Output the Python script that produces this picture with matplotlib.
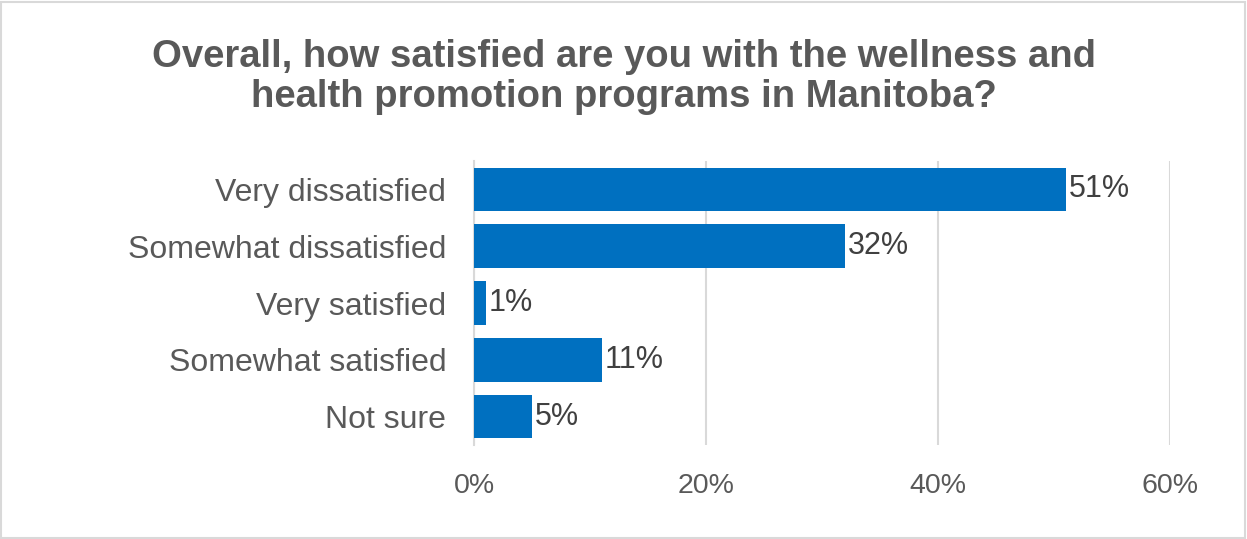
import matplotlib
matplotlib.use("Agg")
import matplotlib.pyplot as plt
from matplotlib.patches import Rectangle
from matplotlib.ticker import FuncFormatter

plt.rcParams["font.family"] = ["Liberation Sans", "DejaVu Sans"]

categories = ["Very dissatisfied", "Somewhat dissatisfied", "Very satisfied",
              "Somewhat satisfied", "Not sure"]
values = [51, 32, 1, 11, 5]
xticks = [0, 20, 40, 60]

BLUE = "#0070C0"
GREY_TXT = "#595959"
GRID = "#D9D9D9"

fig = plt.figure(figsize=(12.47, 5.39), dpi=100)
ax = fig.add_axes([474 / 1247, 1 - 445 / 539, 696 / 1247, 284 / 539])

ypos = list(range(len(categories)))
ax.barh(ypos, values, height=0.77, color=BLUE, zorder=3)
ax.set_ylim(len(categories) - 0.5, -0.5)
ax.set_xlim(0, 60)

for y, v in zip(ypos, values):
    ax.text(v + 0.25, y, f"{v}%", va="center", ha="left",
            fontsize=22, color="#404040", zorder=4)

ax.set_yticks(ypos)
ax.set_yticklabels(categories, fontsize=23, color=GREY_TXT)
ax.set_xticks(xticks)
ax.xaxis.set_major_formatter(FuncFormatter(lambda x, _: f"{x:.0f}%"))
ax.tick_params(axis="x", labelsize=20.5, labelcolor=GREY_TXT, length=0, pad=20)
ax.tick_params(axis="y", length=0, pad=20)

ax.grid(axis="x", color=GRID, linewidth=1.5, zorder=0)
for side in ["top", "right", "bottom"]:
    ax.spines[side].set_visible(False)
ax.spines["left"].set_color(GRID)
ax.spines["left"].set_linewidth(1.5)

fig.text(0.5, 1 - 77 / 539,
         "Overall, how satisfied are you with the wellness and\nhealth promotion programs in Manitoba?",
         ha="center", va="center", fontsize=27.5, fontweight="bold",
         color=GREY_TXT, linespacing=1.15)

# thin frame round the whole chart area
fig.patches.append(Rectangle((0.001, 0.001), 0.997, 0.996, transform=fig.transFigure,
                             fill=False, edgecolor=GRID, linewidth=1.5))

fig.savefig("out.png", dpi=100)
